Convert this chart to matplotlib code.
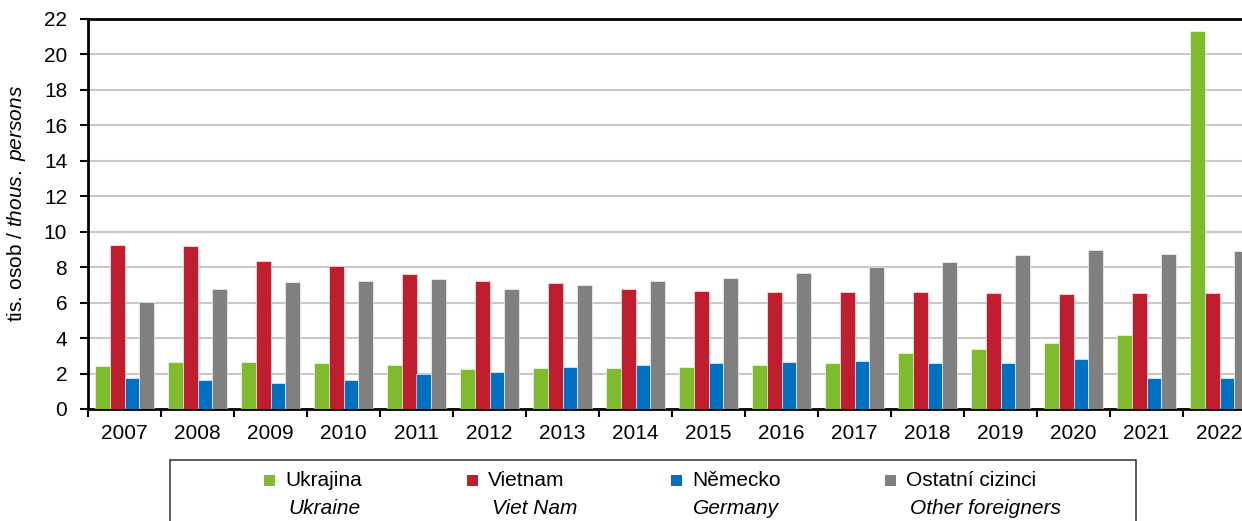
import matplotlib.pyplot as plt
import matplotlib.patches as mpatches
import numpy as np

plt.rcParams['font.family'] = ['Liberation Sans', 'DejaVu Sans']
plt.rcParams['mathtext.fontset'] = 'custom'
plt.rcParams['mathtext.rm'] = 'Liberation Sans'
plt.rcParams['mathtext.it'] = 'Liberation Sans:italic'

years = [str(y) for y in range(2007, 2023)]
ukrajina = [2.41, 2.67, 2.63, 2.59, 2.48, 2.26, 2.33, 2.33, 2.39, 2.46, 2.61, 3.14, 3.38, 3.70, 4.19, 21.30]
vietnam = [9.25, 9.21, 8.33, 8.08, 7.61, 7.22, 7.11, 6.79, 6.67, 6.60, 6.60, 6.60, 6.56, 6.50, 6.56, 6.56]
nemecko = [1.77, 1.65, 1.48, 1.65, 1.97, 2.09, 2.37, 2.48, 2.59, 2.65, 2.73, 2.59, 2.61, 2.82, 1.77, 1.75]
ostatni = [6.02, 6.75, 7.16, 7.24, 7.33, 6.79, 6.99, 7.24, 7.41, 7.67, 7.99, 8.31, 8.68, 8.97, 8.76, 8.93]

series_cz = ['Ukrajina', 'Vietnam', 'Německo', 'Ostatní cizinci']
series_en = ['Ukraine', 'Viet Nam', 'Germany', 'Other foreigners']
colors = ['#7fba2f', '#be1e2d', '#0070c0', '#808080']

fig = plt.figure(figsize=(12.42, 5.21), dpi=100)
W, H = 1242, 521
# plot area runs past the right edge, like in the original
ax = fig.add_axes([88 / W, 1 - 409 / H, (16 * 73) / W, 390 / H])

x = np.arange(len(years))
width = 0.2
for i, (vals, c) in enumerate(zip([ukrajina, vietnam, nemecko, ostatni], colors)):
    ax.bar(x + (i - 1.5) * width, vals, width, color=c, edgecolor='white', linewidth=0.4, zorder=3)

ax.set_xlim(-0.5, len(years) - 0.5)
ax.set_ylim(0, 22)
ax.set_yticks(range(0, 23, 2))
ax.yaxis.grid(True, color='#c8c8c8', linewidth=1.5, zorder=0)
ax.set_axisbelow(True)

ax.set_xticks(x)
ax.set_xticklabels(years)
ax.set_xticks(np.arange(-0.5, len(years)), minor=True)
ax.tick_params(axis='x', which='major', length=0, pad=11, labelsize=15)
ax.tick_params(axis='x', which='minor', length=6, width=1.5, direction='out')
ax.tick_params(axis='y', length=6, width=1.5, labelsize=15, pad=9)

for s in ['left', 'bottom', 'top']:
    ax.spines[s].set_linewidth(2)
ax.spines['right'].set_visible(False)

ax.set_ylabel('tis. osob / $thous.\\ persons$', fontsize=15)
ax.yaxis.set_label_coords((28 - 88) / (16 * 73), (409 - 203) / 390)

# source note, cut off by the top edge as in the original
fig.text(1240 / W, 1 + 11 / H, 'Zdroj: Ředitelství služby cizinecké policie / Source: Ministry of the Interior',
         ha='right', va='baseline', fontsize=15)

# legend box
box = mpatches.Rectangle((170 / W, -5 / H), (1136 - 170) / W, (61 + 5) / H,
                         transform=fig.transFigure, facecolor='white', edgecolor='#404040',
                         linewidth=1.2, zorder=1)
fig.patches.append(box)
sq_x = [264, 467, 671, 885]
en_x = [288, 492, 693, 910]
for sx, ex, c, cz, en in zip(sq_x, en_x, colors, series_cz, series_en):
    fig.patches.append(mpatches.Rectangle((sx / W, 1 - 486 / H), 11 / W, 11 / H,
                                          transform=fig.transFigure, facecolor=c,
                                          edgecolor='none', zorder=2))
    fig.text((sx + 21) / W, 1 - 481 / H, cz, ha='left', va='center', fontsize=15)
    fig.text(ex / W, 1 - 508 / H, en, ha='left', va='center', fontsize=15, style='italic')

fig.savefig('out.png', dpi=100)
